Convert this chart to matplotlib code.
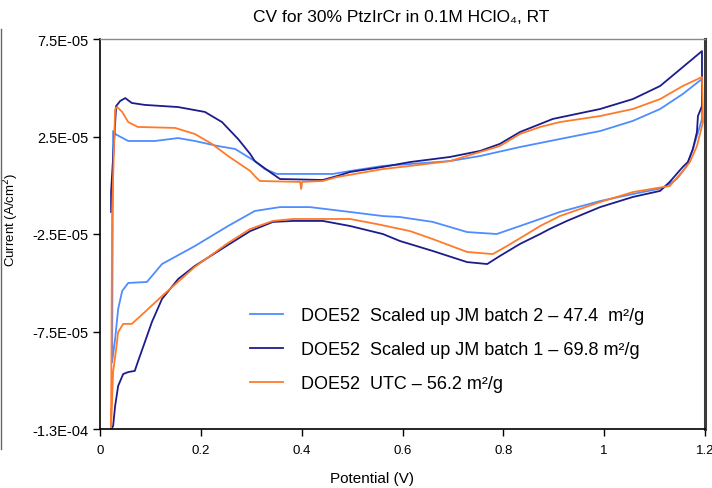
import numpy as np
import matplotlib.pyplot as plt
from matplotlib.lines import Line2D
from matplotlib.ticker import FixedLocator, FixedFormatter

plt.rcParams['font.family'] = ['Liberation Sans', 'DejaVu Sans']

# ---- data (potential in V, current in 1e-5 A/cm2) ----
labels = [
    "DOE52  Scaled up JM batch 2 \u2013 47.4  m\u00b2/g",
    "DOE52  Scaled up JM batch 1 \u2013 69.8 m\u00b2/g",
    "DOE52  UTC \u2013 56.2 m\u00b2/g",
]

# batch 2 (light blue)
v_b2 = [0.024, 0.026, 0.030, 0.056, 0.109, 0.155, 0.188, 0.234, 0.268, 0.307,
        0.327, 0.351, 0.462, 0.496, 0.561, 0.615, 0.694, 0.754, 0.833, 0.912,
        0.992, 1.057, 1.111, 1.156, 1.194,
        1.194, 1.190, 1.176, 1.164, 1.144, 1.117, 1.057, 0.992, 0.912, 0.873,
        0.833, 0.787, 0.728, 0.660, 0.595, 0.561, 0.496, 0.416, 0.357, 0.307,
        0.254, 0.188, 0.123, 0.093, 0.056, 0.044, 0.036, 0.030, 0.024]
i_b2 = [-9.06, 2.78, 2.63, 2.27, 2.27, 2.42, 2.27, 2.01, 1.86, 1.24,
        0.83, 0.58, 0.58, 0.73, 0.99, 1.09, 1.24, 1.50, 1.96, 2.37,
        2.78, 3.30, 3.91, 4.68, 5.45,
        3.40, 3.04, 1.86, 0.99, 0.32, -0.14, -0.45, -0.81, -1.37, -1.73,
        -2.09, -2.50, -2.40, -1.88, -1.63, -1.58, -1.37, -1.12, -1.12, -1.32,
        -2.09, -3.12, -4.04, -4.96, -5.01, -5.42, -6.35, -7.88, -9.06]

# batch 1 (dark blue)
v_b1 = [0.022, 0.022, 0.032, 0.040, 0.050, 0.063, 0.089, 0.155, 0.208, 0.242,
        0.274, 0.298, 0.307, 0.337, 0.357, 0.442, 0.470, 0.496, 0.561, 0.615,
        0.694, 0.754, 0.793, 0.833, 0.873, 0.898, 0.992, 1.057, 1.111, 1.156,
        1.194,
        1.194, 1.186, 1.184, 1.176, 1.166, 1.156, 1.130, 1.111, 1.057, 0.992,
        0.926, 0.892, 0.873, 0.833, 0.793, 0.768, 0.728, 0.660, 0.595, 0.561,
        0.496, 0.442, 0.383, 0.343, 0.298, 0.254, 0.188, 0.155, 0.123, 0.103,
        0.089, 0.075, 0.069, 0.056, 0.046, 0.036, 0.030, 0.026, 0.022]
i_b1 = [-1.37, -0.35, 4.06, 4.32, 4.47, 4.22, 4.12, 4.01, 3.76, 3.24,
        2.37, 1.60, 1.24, 0.68, 0.32, 0.27, 0.47, 0.68, 0.94, 1.19,
        1.45, 1.76, 2.12, 2.73, 3.14, 3.40, 3.91, 4.42, 5.09, 6.06,
        6.88,
        4.06, 3.55, 2.73, 1.86, 1.19, 0.94, 0.17, -0.29, -0.60, -1.12,
        -1.83, -2.24, -2.50, -3.01, -3.63, -4.04, -3.94, -3.37, -2.86, -2.50,
        -2.09, -1.83, -1.83, -1.88, -2.35, -3.06, -4.14, -4.81, -5.83, -7.01,
        -8.04, -9.06, -9.52, -9.58, -9.68, -10.29, -11.32, -12.35, -12.50]

# UTC (orange)
v_utc = [0.022, 0.024, 0.030, 0.034, 0.044, 0.056, 0.075, 0.149, 0.188, 0.222,
         0.254, 0.298, 0.307, 0.317, 0.397, 0.399, 0.401, 0.442, 0.470, 0.561,
         0.615, 0.694, 0.754, 0.793, 0.833, 0.873, 0.912, 0.992, 1.057, 1.111,
         1.156, 1.194,
         1.196, 1.184, 1.170, 1.156, 1.130, 1.117, 1.057, 0.992, 0.912, 0.873,
         0.847, 0.807, 0.779, 0.728, 0.660, 0.615, 0.549, 0.496, 0.383, 0.343,
         0.298, 0.254, 0.188, 0.123, 0.089, 0.063, 0.046, 0.036, 0.032, 0.026,
         0.024, 0.022]
i_utc = [-12.40, -1.37, 3.91, 4.01, 3.76, 3.24, 2.99, 2.94, 2.63, 2.12,
         1.50, 0.73, 0.47, 0.22, 0.17, -0.19, 0.17, 0.22, 0.42, 0.83,
         0.99, 1.24, 1.71, 2.01, 2.63, 2.99, 3.24, 3.55, 3.91, 4.42,
         5.09, 5.55,
         3.24, 2.01, 1.19, 0.73, -0.04, -0.09, -0.35, -0.86, -1.58, -2.09,
         -2.50, -3.12, -3.53, -3.42, -2.76, -2.35, -1.99, -1.73, -1.73, -1.83,
         -2.24, -2.96, -4.19, -5.68, -6.50, -7.11, -7.11, -7.53, -8.40, -9.58,
         -10.96, -12.40]

y_ticks = [7.5e-5, 2.5e-5, -2.5e-5, -7.5e-5, -1.25e-4]
y_tick_labels = ["7.5E-05", "2.5E-05", "-2.5E-05", "-7.5E-05", "-1.3E-04"]
x_ticks = [0, 0.2, 0.4, 0.6, 0.8, 1.0, 1.2]
x_tick_labels = ["0", "0.2", "0.4", "0.6", "0.8", "1", "1.2"]

colors = ['#4F8CFF', '#1C1C8C', '#FF7A2A']

fig = plt.figure(figsize=(7.12, 4.89), dpi=100)
ax = fig.add_axes([100 / 712, 1 - 430 / 489, 605 / 712, 390 / 489])

series = [(v_b2, i_b2), (v_b1, i_b1), (v_utc, i_utc)]
for (v, i), c, lab in zip(series, colors, labels):
    ax.plot(v, np.array(i) * 1e-5, color=c, lw=1.3, label=lab)

ax.set_xlim(0, 1.2)
ax.set_ylim(-1.25e-4, 7.5e-5)
ax.xaxis.set_major_locator(FixedLocator(x_ticks))
ax.xaxis.set_major_formatter(FixedFormatter(x_tick_labels))
ax.yaxis.set_major_locator(FixedLocator(y_ticks))
ax.yaxis.set_major_formatter(FixedFormatter(y_tick_labels))
ax.tick_params(direction='out', length=5, width=1)
ax.tick_params(axis='x', labelsize=9.5, pad=6)
ax.tick_params(axis='y', labelsize=10.5, pad=3)

for side in ['left', 'bottom']:
    ax.spines[side].set_color('black')
    ax.spines[side].set_linewidth(1.2)
ax.spines['top'].set_color('#8a8a8a')
ax.spines['top'].set_linewidth(1.0)
ax.spines['right'].set_color('#3a3a3a')
ax.spines['right'].set_linewidth(2.2)

# partial outer chart border at the far left
fig.add_artist(Line2D([1 / 712, 1 / 712], [1 - 450 / 489, 1 - 30 / 489],
                      color='#666666', lw=1.0))

fig.text(401 / 712, 1 - 18 / 489, "CV for 30% PtzIrCr in 0.1M HClO\u2084, RT",
         ha='center', va='center', fontsize=12.5)
ax.set_xlabel("Potential (V)", fontsize=11)
ax.xaxis.set_label_coords((372 - 100) / 605, -(472 - 430) / 390)
ax.set_ylabel("Current (A/cm$^2$)", fontsize=9.5)
ax.yaxis.set_label_coords((21 - 100) / 605, (430 - 220) / 390)

ax.legend(loc='upper left', bbox_to_anchor=(250 / 712, 1 - 308 / 489),
          bbox_transform=fig.transFigure, frameon=False, fontsize=13,
          handlelength=1.85, handletextpad=0.95, labelspacing=0.95,
          borderpad=0, borderaxespad=0)

plt.savefig("out.png", dpi=100)
